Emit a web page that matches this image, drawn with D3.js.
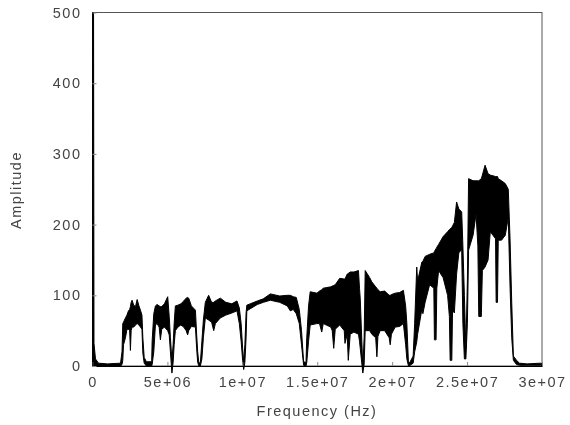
<!DOCTYPE html>
<html><head><meta charset="utf-8">
<script src="https://cdn.jsdelivr.net/npm/d3@7"></script>
<style>
html,body{margin:0;padding:0;background:#fff;overflow:hidden}
svg{display:block;filter:blur(0.6px)}
text{font-family:"Liberation Sans",sans-serif;font-size:14.5px;fill:#444;letter-spacing:1.5px}
</style></head><body>
<svg id="c" width="570" height="425"></svg>
<script>
const xTicks=[0,5e6,1e7,1.5e7,2e7,2.5e7,3e7];
const xTickLabels=["0","5e+06","1e+07","1.5e+07","2e+07","2.5e+07","3e+07"];
const yTicks=[0,100,200,300,400,500];
// frequency in MHz, upper and lower edge of the noisy amplitude trace
const freqMHz=[0,0.07,0.1,0.2,0.4,1,1.87,1.97,2.02,2.07,2.2,2.3,2.4,2.48,2.53,2.58,2.64,2.75,2.87,2.98,3.1,3.2,3.3,3.36,3.45,3.6,3.95,
3.98,4.09,4.2,4.31,4.45,4.53,4.62,4.8,5.02,5.12,5.2,5.3,5.38,5.45,
5.53,5.7,5.9,6.09,6.25,6.35,6.42,6.6,6.87,6.95,7.02,7.1,7.2,7.3,7.4,
7.53,7.75,7.95,8.09,8.2,8.53,8.9,9.3,9.64,9.8,9.92,10.02,10.09,10.17,10.25,
10.3,11,11.4,11.87,12.5,13,13.2,13.4,13.6,13.8,13.95,14.09,14.25,
14.3,14.42,14.53,14.98,15.15,15.3,15.4,15.9,16,16.1,16.2,16.5,16.8,16.85,17,17.07,17.2,17.45,17.75,17.82,17.87,18.04,18.13,18.2,18.5,18.64,18.9,18.98,19.05,19.2,19.5,19.8,19.87,19.95,20.2,20.5,20.75,20.9,20.98,21.09,21.2,21.4,21.5,21.64,21.7,21.98,22.05,22.2,
22.5,22.78,22.82,22.93,22.98,23.1,23.4,23.7,23.82,23.87,23.98,24.03,24.15,24.3,24.45,24.64,24.72,24.82,24.92,25.02,25.1,25.4,25.6,25.72,25.78,25.95,26.02,26.2,26.4,26.55,26.9,26.94,27.03,27.08,27.3,27.55,27.75,27.87,27.98,28.09,28.3,28.5,29,29.9,30];
const upperAmp=[500,500,32,10,4,3,4,20,60,62,68,72,78,80,84,90,93,86,84,94,85,79,72,40,12,6,6,
35,74,85,87,85,84,84,88,98,70,40,8,30,60,
85,86,88,92,96,97,96,85,79,45,20,4,5,35,65,
90,100,90,90,92,96,90,88,92,82,60,25,6,30,75,
86,92,95,102,99,100,100,98,97,80,50,6,5,
40,85,105,103,106,108,110,112,113,114,115,124,123,123,130,131,133,133,135,110,95,-2,40,135,125,119,112,110,108,105,106,100,100,101,103,104,107,85,60,3,6,14,60,140,120,147,148,155,
158,160,162,166,168,172,183,190,193,194,196,198,203,232,222,218,170,100,25,120,265,262,262,262,262,265,270,284,272,270,268,268,268,265,262,258,250,178,90,14,8,4,3,4,3];
const lowerAmp=[0,0,0,0,0,0,0,2,8,30,40,52,52,50,22,50,55,55,58,60,58,55,52,18,4,0,0,
2,20,58,60,55,37,52,55,50,44,20,-10,5,30,
50,55,58,55,50,44,50,56,55,25,5,0,0,10,40,
68,65,62,50,60,68,72,75,78,60,35,8,-5,5,40,
78,87,90,93,90,85,78,80,74,60,30,1,0,
5,35,58,60,60,48,60,55,50,25,52,58,50,32,45,8,45,48,45,35,25,-10,2,50,50,45,40,13,42,50,50,40,30,45,55,56,60,30,10,0,1,4,20,34,45,80,74,90,
115,110,37,37,110,135,125,100,70,8,8,80,75,130,160,165,60,10,10,60,164,185,215,170,70,70,135,140,150,190,180,90,90,178,178,185,210,110,40,8,2,1,1,1,1];

const x=d3.scaleLinear().domain([0,3e7]).range([92.5,542]);
const y=d3.scaleLinear().domain([0,500]).range([366,12.5]);
const svg=d3.select("#c");

svg.append("rect").attr("x",92.5).attr("y",12.5).attr("width",449.5).attr("height",353.5)
  .attr("fill","none").attr("stroke","#555").attr("stroke-width",1);

const points=freqMHz.map((f,i)=>({f:f*1e6,hi:upperAmp[i],lo:lowerAmp[i]}));
const area=d3.area().x(d=>x(d.f)).y0(d=>y(d.lo)).y1(d=>y(d.hi));
svg.append("path").datum(points).attr("d",area).attr("fill","#000").attr("stroke","#000").attr("stroke-width",1);

svg.append("g").attr("transform","translate(0,366)")
  .call(d3.axisBottom(x).tickValues(xTicks).tickFormat((d,i)=>xTickLabels[i]).tickSizeInner(-4).tickSizeOuter(0).tickPadding(11));
svg.append("g").attr("transform","translate(92.5,0)")
  .call(d3.axisLeft(y).tickValues(yTicks).tickSizeInner(-4).tickSizeOuter(0).tickPadding(11));
svg.selectAll(".domain").attr("stroke","#000");
svg.selectAll(".tick line").attr("stroke","#888");
svg.selectAll(".tick text").attr("fill","#444").style("font-family",'"Liberation Sans",sans-serif').style("font-size","14.5px");

svg.append("text").attr("x",317).attr("y",416).attr("text-anchor","middle").text("Frequency (Hz)");
svg.append("text").attr("transform","translate(21,190) rotate(-90)").attr("text-anchor","middle").text("Amplitude");
</script></body></html>
